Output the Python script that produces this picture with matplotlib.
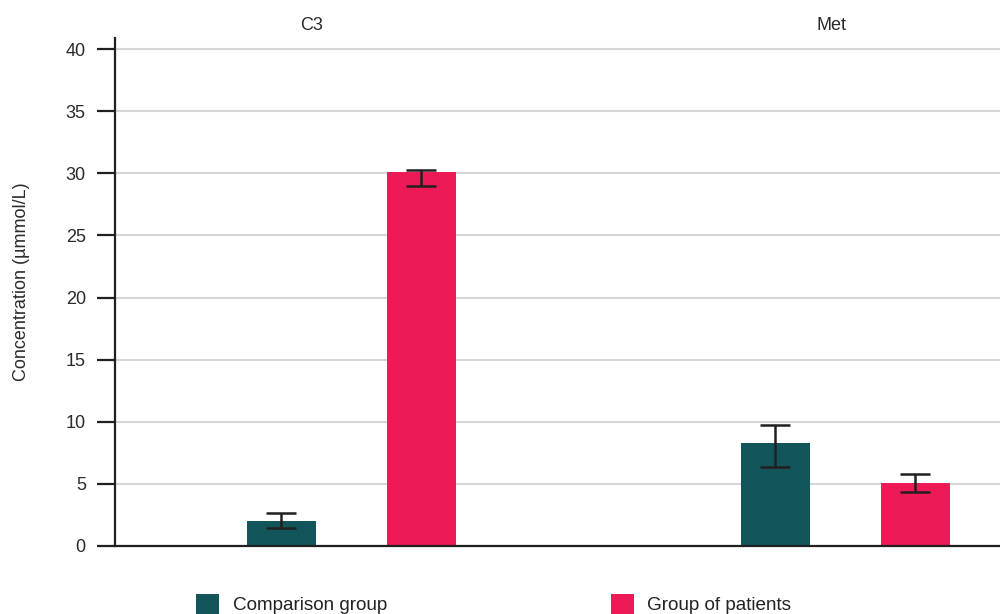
import matplotlib
matplotlib.use("Agg")
import matplotlib.pyplot as plt
from matplotlib.patches import Patch
import numpy as np

plt.rcParams['font.family'] = ['Liberation Sans', 'DejaVu Sans']

categories = ["C3", "Met"]
series_names = ["Comparison group", "Group of patients"]
comparison = [2.0, 8.3]
comparison_lo = [0.55, 1.95]
comparison_hi = [0.65, 1.4]
patients = [30.1, 5.05]
patients_lo = [1.15, 0.7]
patients_hi = [0.17, 0.7]
yticks = [0, 5, 10, 15, 20, 25, 30, 35, 40]

teal = "#11555b"
pink = "#ed1a57"
dark = "#231f20"
grid = "#d6d6d6"

fig = plt.figure(figsize=(10, 6.14), dpi=100)
ax = fig.add_axes([0.115, 0.111, 0.885, 0.827])

x = np.arange(len(categories))
off = 0.1417
w = 0.14

ax.bar(x - off, comparison, w, color=teal, zorder=2)
ax.bar(x + off, patients, w, color=pink, zorder=2)

ekw = dict(fmt='none', ecolor=dark, elinewidth=1.8, capsize=10.8, capthick=1.8, zorder=3)
ax.errorbar(x - off, comparison, yerr=[comparison_lo, comparison_hi], **ekw)
ax.errorbar(x + off, patients, yerr=[patients_lo, patients_hi], **ekw)

ax.set_xlim(-0.4787, 1.3128)
ax.set_ylim(0, 40.9)
ax.set_yticks(yticks)
ax.set_xticks([])
ax.yaxis.grid(True, color=grid, linewidth=1.5, zorder=0)
ax.set_axisbelow(True)

for s in ['top', 'right']:
    ax.spines[s].set_visible(False)
for s in ['left', 'bottom']:
    ax.spines[s].set_color(dark)
    ax.spines[s].set_linewidth(1.6)
    ax.spines[s].set_zorder(4)

ax.tick_params(axis='y', length=13, width=1.6, color=dark, pad=8, labelsize=13, labelcolor="#2a2a2a")
ax.set_ylabel("Concentration (µmmol/L)", fontsize=13, color="#2a2a2a")
ax.yaxis.set_label_coords(-0.096, 0.52)

# category names along the top
fig.text(0.312, 0.959, categories[0], ha='center', va='center', fontsize=13, color="#2a2a2a")
fig.text(0.831, 0.959, categories[1], ha='center', va='center', fontsize=13, color="#2a2a2a")

handles = [Patch(facecolor=teal), Patch(facecolor=pink)]
fig.legend(handles, series_names, loc='upper left', bbox_to_anchor=(0.196, 1 - 594 / 614),
           ncol=2, frameon=False, fontsize=13.6, borderpad=0, borderaxespad=0,
           handlelength=1.22, handleheight=1.22, handletextpad=0.72, columnspacing=11.85,
           labelcolor="#222222")

fig.savefig("out.png", dpi=100)
